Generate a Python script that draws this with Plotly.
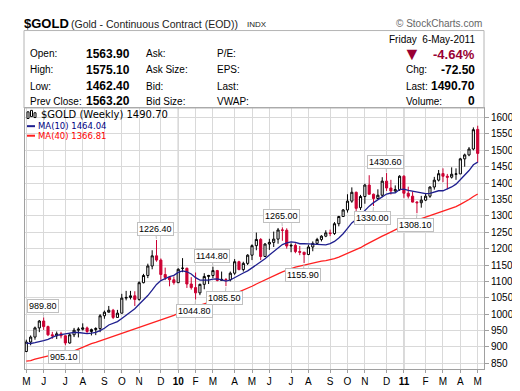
import plotly.graph_objects as go
import pandas as pd

# ---------------- data ----------------
# weekly closes before the visible window (Aug 2008 - May 2009), used only for MA warm-up
prior_closes = [864, 787, 830, 834, 804, 763, 866, 887, 834, 858, 786, 738, 718, 737, 743,
                799, 815, 753, 823, 837, 872, 879, 854, 837, 899, 928, 914, 942, 1002, 942,
                940, 930, 954, 924, 899, 882, 870, 913, 887]

first_week = "2009-05-04"
holiday_mondays = ["2009-05-25", "2009-09-07", "2010-01-18", "2010-02-15", "2010-05-31",
                   "2010-09-06", "2011-01-17", "2011-02-21"]

opens = [886, 915, 930, 958, 979, 962, 937, 934, 940, 934, 912, 937, 951, 954, 958, 947, 953,
         956, 995, 1006, 1012, 990, 1003, 1049, 1051, 1056, 1045, 1096, 1118, 1147, 1178, 1165,
         1121, 1112, 1105, 1096, 1140, 1140, 1092, 1081, 1065, 1091, 1115, 1118, 1133, 1103,
         1106, 1105, 1125, 1160, 1136, 1155, 1180, 1209, 1228, 1176, 1214, 1219, 1229, 1257,
         1256, 1208, 1210, 1191, 1189, 1182, 1205, 1216, 1228, 1238, 1248, 1246, 1276, 1298,
         1318, 1345, 1372, 1325, 1359, 1394, 1366, 1353, 1363, 1406, 1385, 1376, 1380, 1421,
         1369, 1360, 1342, 1340, 1348, 1360, 1388, 1409, 1429, 1421, 1418, 1427, 1428, 1474,
         1486, 1504, 1563.9]
highs = [922, 935, 962, 982, 989.8, 965, 946, 947, 946, 935, 942, 958, 960, 972, 962, 956, 960,
         1000, 1011, 1025, 1016, 1013, 1062, 1071, 1071, 1070, 1100, 1123, 1154, 1195, 1226.4,
         1170, 1142, 1116, 1115, 1140, 1171, 1142, 1113, 1127, 1093, 1125, 1120, 1144.8, 1135,
         1130, 1110, 1130, 1168, 1163, 1160, 1183, 1213, 1249, 1232, 1217, 1230, 1252, 1263,
         1265, 1262, 1216, 1216, 1208, 1190, 1212, 1222, 1233, 1241, 1256, 1258, 1281, 1300,
         1321, 1366, 1387, 1374, 1364, 1398, 1424, 1368, 1381, 1418, 1430.6, 1410, 1393, 1424,
         1424, 1389, 1374, 1345, 1361, 1369, 1390, 1419, 1440, 1445, 1428, 1448, 1445, 1477,
         1490, 1510, 1570, 1575.1]
lows = [884, 905, 922, 945, 952, 933, 925, 924, 926, 905.1, 910, 930, 929, 950, 940, 935, 936,
        945, 986, 1005, 985, 989, 1002, 1042, 1045, 1025, 1041, 1094, 1110, 1137, 1160, 1105,
        1104, 1085, 1090, 1095, 1128, 1080, 1075, 1044.8, 1058, 1076, 1092, 1110, 1100, 1103,
        1085.5, 1100, 1120, 1134, 1130, 1150, 1165, 1195, 1165, 1175, 1196, 1205, 1215, 1224,
        1200, 1189, 1186, 1180, 1155.9, 1180, 1192, 1213, 1222, 1235, 1238, 1242, 1268, 1297,
        1310, 1340, 1315, 1318, 1337, 1365, 1330, 1350, 1357, 1376, 1365, 1372, 1376, 1355,
        1353, 1341, 1308.1, 1325, 1345, 1355, 1380, 1405, 1403, 1381, 1414, 1410, 1428, 1450,
        1482, 1500, 1462.4]
closes = [915, 930, 958, 979, 962, 937, 934, 940, 934, 912, 937, 951, 954, 958, 947, 953, 956,
          995, 1006, 1012, 990, 1003, 1049, 1051, 1056, 1045, 1096, 1118, 1147, 1178, 1165, 1121,
          1112, 1105, 1096, 1137, 1140, 1092, 1081, 1065, 1091, 1115, 1118, 1133, 1103, 1106,
          1105, 1125, 1160, 1136, 1155, 1180, 1209, 1228, 1176, 1214, 1219, 1229, 1257, 1256,
          1208, 1210, 1191, 1189, 1182, 1205, 1216, 1228, 1238, 1248, 1246, 1276, 1298, 1318,
          1345, 1372, 1323, 1359, 1394, 1366, 1353, 1363, 1406, 1385, 1376, 1380, 1421, 1369,
          1360, 1342, 1340, 1348, 1360, 1388, 1409, 1428.7, 1421, 1418, 1427, 1428, 1474, 1486,
          1504, 1563, 1490.7]
prev_close = 1563.20
last_date_text = "Friday  6-May-2011"

# swing-point callouts: (bar index, which price)
callouts = [(4, "high"), (9, "low"), (30, "high"), (39, "low"), (43, "high"), (46, "low"),
            (59, "high"), (64, "low"), (80, "low"), (83, "high"), (90, "low")]

month_letters = "JFMAMJJASOND"

# ---------------- derived ----------------
n = len(closes)
idx = list(range(n))
weeks = pd.date_range(first_week, periods=n, freq="7D")
hol = set(pd.to_datetime(holiday_mondays))
week_start = [d + pd.Timedelta(days=1) if d in hol else d for d in weeks]

tickvals, ticktext, year_idx = [], [], []
for i, d in enumerate(week_start):
    if i == 0 or d.month != week_start[i - 1].month:
        tickvals.append(i)
        if d.month == 1:
            ticktext.append("<b>%02d</b>" % (d.year % 100))
            year_idx.append(i)
        else:
            ticktext.append(month_letters[d.month - 1])

allc = pd.Series(prior_closes + closes)
ma10 = allc.rolling(10).mean().iloc[len(prior_closes):].tolist()
ma40 = allc.rolling(40).mean().iloc[len(prior_closes):].tolist()

RED = "#CC0033"
NAVY = "#1f1f8f"
MARED = "#ff2020"
FONT = "Arial"

fig = go.Figure()
fig.add_trace(go.Scatter(x=idx, y=ma40, mode="lines", line=dict(color=MARED, width=1.3),
                         hoverinfo="skip"))
fig.add_trace(go.Scatter(x=idx, y=ma10, mode="lines", line=dict(color=NAVY, width=1.3),
                         hoverinfo="skip"))
fig.add_trace(go.Candlestick(
    x=idx, open=opens, high=highs, low=lows, close=closes,
    increasing=dict(line=dict(color="black", width=1), fillcolor="white"),
    decreasing=dict(line=dict(color=RED, width=1), fillcolor=RED),
    whiskerwidth=0, hoverinfo="skip"))

# plot area in pixels: x 17..476, y 100..373
X0, X1, Y0, Y1 = 17, 476, 100, 373


def px(x):
    return (x - X0) / (X1 - X0)


def py(y):
    return (Y1 - y) / (Y1 - Y0)


ann = []


def txt(x, y, s, size=10, color="black", anchor="left", bold=False, family=FONT):
    ann.append(dict(x=px(x), y=py(y), xref="paper", yref="paper", text=("<b>%s</b>" % s) if bold else s,
                    showarrow=False, xanchor=anchor, yanchor="middle",
                    font=dict(family=family, size=size, color=color)))


# header
txt(14, 12, "$GOLD", size=13, bold=True)
txt(61, 12, "(Gold - Continuous Contract (EOD))", size=10.5, color="#222")
txt(237, 12.5, "INDX", size=8, color="#222")
txt(476, 12, "© StockCharts.com", size=10, color="#666", anchor="right")

rows = [43, 60, 77, 93]
for y, lab, val in zip(rows, ["Open:", "High:", "Low:", "Prev Close:"],
                       [opens[-1], highs[-1], lows[-1], prev_close]):
    txt(20, y, lab, size=10)
    txt(76, y, "%.2f" % val, size=12, bold=True)
for y, lab in zip(rows, ["Ask:", "Ask Size:", "Bid:", "Bid Size:"]):
    txt(136, y, lab, size=10)
for y, lab in zip(rows, ["P/E:", "EPS:", "Last:", "VWAP:"]):
    txt(207, y, lab, size=10)

last = closes[-1]
chg = last - prev_close
txt(469, 28, last_date_text, size=10, anchor="right")
txt(404, 44, "▼", size=18, color="#990033", anchor="center")
txt(469, 44, "%.2f%%" % (chg / prev_close * 100), size=13, color="#990033", anchor="right", bold=True)
txt(396, 60, "Chg:", size=10)
txt(469, 60, "%.2f" % chg, size=12, anchor="right", bold=True)
txt(396, 77, "Last:", size=10)
txt(469, 77, "%.2f" % last, size=12, anchor="right", bold=True)
txt(396, 93, "Volume:", size=10)
txt(469, 93, "0", size=12, anchor="right", bold=True)

# in-chart legend
txt(31, 107, "$GOLD (Weekly) %.2f" % last, size=10, family="DejaVu Sans")
txt(28, 119, "MA(10) %.2f" % ma10[-1], size=8.5, color="#000080", family="DejaVu Sans")
txt(28, 129, "MA(40) %.2f" % ma40[-1], size=8.5, color="#ff0000", family="DejaVu Sans")

# callouts
for i, kind in callouts:
    v = highs[i] if kind == "high" else lows[i]
    ann.append(dict(x=i, y=v, xref="x", yref="y", text="%.2f" % v, showarrow=True,
                    arrowhead=0, arrowwidth=1, arrowcolor="#c0c0c0", ax=-1,
                    ay=-11 if kind == "high" else 12, standoff=1,
                    font=dict(family=FONT, size=9, color="black"), bgcolor="white",
                    bordercolor="#c0c0c0", borderwidth=1, borderpad=1))

shapes = []
# info panel box
shapes.append(dict(type="rect", xref="paper", yref="paper", x0=px(16), x1=px(476),
                   y0=py(100), y1=py(19), line=dict(color="#b4b4b4", width=1)))
# year separators
for i in year_idx:
    shapes.append(dict(type="line", xref="x", yref="paper", x0=i, x1=i, y0=0, y1=1,
                       line=dict(color="#a8a8a8", width=1), layer="below"))
# legend icon and MA swatches
for (xa, xb, ya, yb) in [(19, 21, 104, 111), (22.5, 24.5, 102.5, 109), (26, 28, 105, 110)]:
    shapes.append(dict(type="rect", xref="paper", yref="paper", x0=px(xa), x1=px(xb),
                       y0=py(yb), y1=py(ya), line=dict(color="black", width=1), fillcolor="white"))
shapes.append(dict(type="line", xref="paper", yref="paper", x0=px(19), x1=px(27), y0=py(119),
                   y1=py(119), line=dict(color=NAVY, width=2)))
shapes.append(dict(type="line", xref="paper", yref="paper", x0=px(19), x1=px(27), y0=py(129),
                   y1=py(129), line=dict(color=MARED, width=2)))

fig.update_layout(
    width=520, height=391, autosize=False,
    margin=dict(l=X0, r=520 - X1, t=Y0, b=391 - Y1, pad=0),
    paper_bgcolor="white", plot_bgcolor="white", showlegend=False,
    annotations=ann, shapes=shapes, hovermode=False,
    xaxis=dict(range=[-0.3, 105.45], tickvals=tickvals, ticktext=ticktext,
               showgrid=True, gridcolor="#d9d9d9", gridwidth=1, zeroline=False,
               showline=True, linecolor="#a0a0a0", mirror=True, ticks="outside",
               ticklen=3, tickcolor="#a0a0a0", tickfont=dict(family=FONT, size=10, color="black"),
               rangeslider=dict(visible=False), fixedrange=True),
    yaxis=dict(side="right", range=[832.6, 1629.2], tick0=0, dtick=50, showgrid=True,
               gridcolor="#d9d9d9", gridwidth=1, zeroline=False, showline=True,
               linecolor="#a0a0a0", mirror=True, ticks="outside", ticklen=4,
               tickcolor="#a0a0a0", tickfont=dict(family=FONT, size=10, color="black"),
               fixedrange=True),
)

fig.write_html("out.html")
